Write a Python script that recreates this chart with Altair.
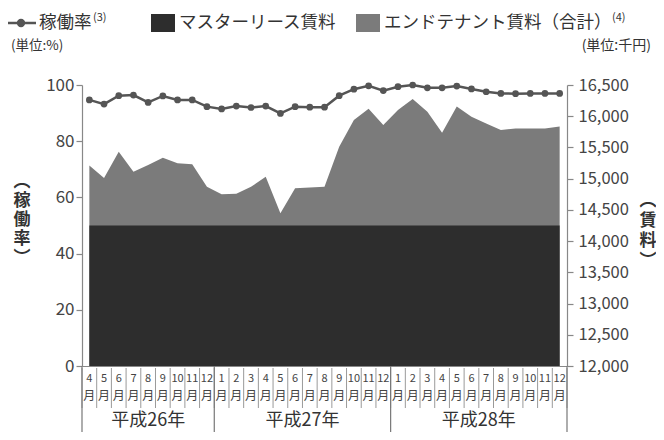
import altair as alt
import pandas as pd

FONT = "Noto Sans CJK JP"

# ---- data ----
months = [4, 5, 6, 7, 8, 9, 10, 11, 12,
          1, 2, 3, 4, 5, 6, 7, 8, 9, 10, 11, 12,
          1, 2, 3, 4, 5, 6, 7, 8, 9, 10, 11, 12]
year_of_month = (["平成26年"] * 9) + (["平成27年"] * 12) + (["平成28年"] * 12)

occupancy = [94.7, 93.2, 96.2, 96.4, 93.8, 96.1, 94.7, 94.7, 92.3, 91.5, 92.5,
             92.0, 92.5, 89.9, 92.3, 92.1, 92.1, 96.2, 98.5, 99.7, 98.0,
             99.4, 100.0, 99.0, 99.0, 99.6, 98.6, 97.6, 97.0, 96.9, 97.0, 97.0, 97.0]

end_tenant = [15210, 15010, 15430, 15110, 15220, 15335, 15245, 15230, 14870, 14750, 14760,
              14870, 15030, 14445, 14845, 14860, 14870, 15510, 15940, 16120, 15860,
              16100, 16275, 16070, 15735, 16155, 15990, 15885, 15780, 15805, 15805, 15805, 15835]

master_lease = [14250, 14250, 14250, 14250, 14250, 14250, 14250, 14250, 14250, 14250, 14250,
                14250, 14250, 14250, 14250, 14250, 14250, 14250, 14250, 14250, 14250,
                14250, 14250, 14250, 14250, 14250, 14250, 14250, 14250, 14250, 14250, 14250, 14250]

left_ticks = [0, 20, 40, 60, 80, 100]
right_ticks = [12000, 12500, 13000, 13500, 14000, 14500, 15000, 15500, 16000, 16500]

n = len(months)
df = pd.DataFrame({
    "i": list(range(n)),
    "month": [str(m) for m in months],
    "year": year_of_month,
    "occ": occupancy,
    "end": end_tenant,
    "master": master_lease,
})
bounds = pd.DataFrame({"b": [k - 0.5 for k in range(n + 1)]})
year_df = df.groupby("year", sort=False)["i"].agg(["min", "max"]).reset_index()
year_df["center"] = (year_df["min"] + year_df["max"]) / 2
year_bounds = pd.DataFrame({"b": [year_df["min"].iloc[0] - 0.5] + list(year_df["max"] + 0.5)})

W, H = 485, 281
GRAY = "#7b7b7b"
DARK = "#2d2d2d"
LINE = "#555555"

xscale = alt.Scale(domain=[-0.5, n - 0.5], nice=False, zero=False)
xaxis = alt.Axis(title=None, labels=False, ticks=False, grid=False, domain=True,
                 domainColor="#888888")
X = alt.X("i:Q", scale=xscale, axis=xaxis)

yr_scale = alt.Scale(domain=[12000, 16500], nice=False, zero=False)
yr_axis = alt.Axis(orient="right", values=right_ticks, title=None,
                   labelExpr="format(datum.value, ',')",
                   grid=False, labelPadding=5, labelFontSize=16.5)

gray = alt.Chart(df).mark_area(color=GRAY).encode(
    x=X,
    y=alt.Y("end:Q", scale=yr_scale, axis=yr_axis),
    y2=alt.datum(12000),
)
dark = alt.Chart(df).mark_area(color=DARK).encode(
    x=X,
    y=alt.Y("master:Q", scale=yr_scale, axis=yr_axis),
    y2=alt.datum(12000),
)
areas = alt.layer(gray, dark)

line = alt.Chart(df).mark_line(
    color=LINE, strokeWidth=2.5,
    point=alt.OverlayMarkDef(filled=True, size=45, color=LINE, opacity=1),
).encode(
    x=X,
    y=alt.Y("occ:Q", scale=alt.Scale(domain=[0, 100], nice=False, zero=False),
            axis=alt.Axis(orient="left", values=left_ticks, title=None, grid=False,
                          labelPadding=2, labelFontSize=17)),
)

main = alt.layer(areas, line).resolve_scale(y="independent")

# month cells under the axis
cell_rules = alt.Chart(bounds).mark_rule(color="#9a9a9a", strokeWidth=1).encode(
    x=alt.X("b:Q", scale=xscale, axis=xaxis), y=alt.value(283), y2=alt.value(323))
year_rules = alt.Chart(year_bounds).mark_rule(color="#777777", strokeWidth=1.2).encode(
    x=alt.X("b:Q", scale=xscale, axis=xaxis), y=alt.value(281), y2=alt.value(360))
month_num = alt.Chart(df).mark_text(fontSize=11, color="#444444", font=FONT).encode(
    x=X, y=alt.value(294), text="month:N")
month_kanji = alt.Chart(df).mark_text(text="月", fontSize=12, color="#444444", font=FONT).encode(
    x=X, y=alt.value(311))
year_text = alt.Chart(year_df).mark_text(fontSize=18, color="#333333", font=FONT).encode(
    x=alt.X("center:Q", scale=xscale, axis=xaxis), y=alt.value(336), text="year:N")

# legend and annotations
one = pd.DataFrame({"a": [0]})
TXT = "#333333"
LFS = 17.5
LY = -62
leg_line = alt.Chart(one).mark_rule(color=LINE, strokeWidth=2.5).encode(
    x=alt.value(-76), x2=alt.value(-46), y=alt.value(LY))
leg_dot = alt.Chart(one).mark_point(filled=True, size=70, color=LINE, opacity=1).encode(
    x=alt.value(-61), y=alt.value(LY))
leg_t1 = alt.Chart(one).mark_text(text="稼働率", align="left", baseline="middle", fontSize=LFS,
                                  color=TXT, font=FONT).encode(x=alt.value(-43), y=alt.value(LY))
leg_s1 = alt.Chart(one).mark_text(text="(3)", align="left", baseline="middle", fontSize=11,
                                  color=TXT, font=FONT).encode(x=alt.value(11), y=alt.value(LY - 5))
leg_r1 = alt.Chart(one).mark_rect(color=DARK).encode(
    x=alt.value(69), x2=alt.value(93), y=alt.value(LY - 9), y2=alt.value(LY + 9))
leg_t2 = alt.Chart(one).mark_text(text="マスターリース賃料", align="left", baseline="middle",
                                  fontSize=LFS, color=TXT, font=FONT).encode(
    x=alt.value(97), y=alt.value(LY))
leg_r2 = alt.Chart(one).mark_rect(color=GRAY).encode(
    x=alt.value(274), x2=alt.value(298), y=alt.value(LY - 9), y2=alt.value(LY + 9))
leg_t3 = alt.Chart(one).mark_text(text="エンドテナント賃料（合計）", align="left", baseline="middle",
                                  fontSize=LFS, color=TXT, font=FONT).encode(
    x=alt.value(302), y=alt.value(LY))
leg_s3 = alt.Chart(one).mark_text(text="(4)", align="left", baseline="middle", fontSize=11,
                                  color=TXT, font=FONT).encode(x=alt.value(530), y=alt.value(LY - 5))

unit_l = alt.Chart(one).mark_text(text="(単位:%)", align="left", baseline="middle", fontSize=13.5,
                                  color=TXT, font=FONT).encode(x=alt.value(-71), y=alt.value(-39))
unit_r = alt.Chart(one).mark_text(text="(単位:千円)", align="right", baseline="middle", fontSize=14,
                                  color=TXT, font=FONT).encode(x=alt.value(569), y=alt.value(-39))
title_l = alt.Chart(one).mark_text(text=["︵", "稼", "働", "率", "︶"], baseline="middle",
                                   fontSize=17, lineHeight=19, color=TXT, font=FONT,
                                   fontWeight="bold").encode(x=alt.value(-60), y=alt.value(97))
title_r = alt.Chart(one).mark_text(text=["︵", "賃", "料", "︶"], baseline="middle",
                                   fontSize=17, lineHeight=20, color=TXT, font=FONT,
                                   fontWeight="bold").encode(x=alt.value(566), y=alt.value(116))

chart = alt.layer(
    main, cell_rules, year_rules, month_num, month_kanji, year_text,
    leg_line, leg_dot, leg_t1, leg_s1, leg_r1, leg_t2, leg_r2, leg_t3, leg_s3,
    unit_l, unit_r, title_l, title_r,
).properties(
    width=W, height=H,
    autosize=alt.AutoSizeParams(type="none"),
    padding={"left": 74, "top": 77, "right": 89, "bottom": 66},
    background="white",
).configure_view(stroke=None).configure_axis(
    labelFont=FONT, labelColor="#444444", domainColor="#888888", tickColor="#888888",
    tickSize=6, domainWidth=1.2, tickWidth=1.2,
)

chart.save("out.html", embed_options={"renderer": "svg", "actions": False})
